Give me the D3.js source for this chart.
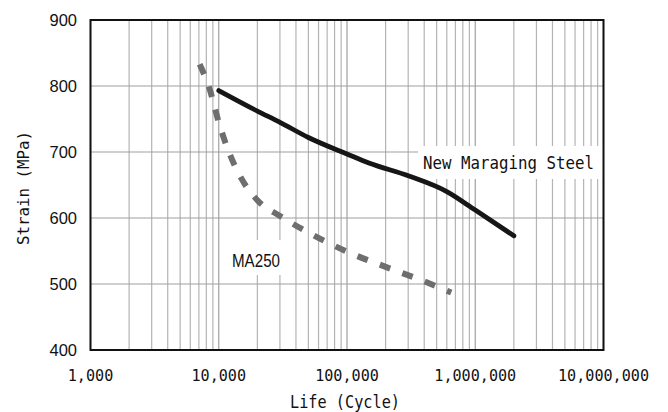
<!DOCTYPE html>
<html><head><meta charset="utf-8">
<script src="https://cdn.jsdelivr.net/npm/d3@7"></script>
<style>html,body{margin:0;padding:0;background:#fff;}svg{display:block;}</style>
</head><body>
<svg id="c" width="668" height="412"></svg>
<script>
const maragingX = [10000, 20000, 30000, 50000, 100000, 150000, 300000, 600000, 1000000, 2000000];
const maragingY = [793, 762, 745, 722, 697, 683, 664, 640, 612, 573];
const ma250X = [7100, 8500, 10000, 12000, 15000, 20000, 30000, 50000, 100000, 200000, 400000, 650000];
const ma250Y = [833, 795, 745, 700, 660, 627, 603, 578, 549, 526, 504, 487];
const xTicks = [1000, 10000, 100000, 1000000, 10000000];
const xTickLabels = ["1,000", "10,000", "100,000", "1,000,000", "10,000,000"];
const yTicks = [400, 500, 600, 700, 800, 900];
const seriesNames = ["New Maraging Steel", "MA250"];
const xTitle = "Life (Cycle)";
const yTitle = "Strain (MPa)";

const svg = d3.select("#c");
const L = 90.5, R = 603.5, T = 20, B = 350;
const x = d3.scaleLog().domain([1000, 10000000]).range([L, R]);
const y = d3.scaleLinear().domain([400, 900]).range([B, T]);

// minor vertical grid
const minor = [];
for (let d = 1000; d < 10000000; d *= 10) for (let k = 2; k <= 9; k++) minor.push(d * k);
const grid = svg.append("g");
grid.selectAll("line.vm").data(minor).join("line")
  .attr("x1", d => x(d)).attr("x2", d => x(d)).attr("y1", T).attr("y2", B)
  .attr("stroke", "#b4b4b4").attr("stroke-width", 1.2);
grid.selectAll("line.vM").data(xTicks).join("line")
  .attr("x1", d => x(d)).attr("x2", d => x(d)).attr("y1", T).attr("y2", B)
  .attr("stroke", "#a0a0a0").attr("stroke-width", 1.2);
grid.selectAll("line.h").data(yTicks).join("line")
  .attr("x1", L).attr("x2", R).attr("y1", d => y(d)).attr("y2", d => y(d))
  .attr("stroke", "#a0a0a0").attr("stroke-width", 1.2);

// label backgrounds
svg.append("rect").attr("x", 418).attr("y", 146).attr("width", R - 418).attr("height", 33).attr("fill", "#fff");
svg.append("rect").attr("x", 226).attr("y", 240).attr("width", 62).attr("height", 35).attr("fill", "#fff");

// border
svg.append("rect").attr("x", L).attr("y", T).attr("width", R - L).attr("height", B - T)
  .attr("fill", "none").attr("stroke", "#111").attr("stroke-width", 2);

const line = d3.line().x(d => x(d[0])).y(d => y(d[1])).curve(d3.curveMonotoneX);

svg.append("path").datum(ma250X.map((v, i) => [v, ma250Y[i]]))
  .attr("d", line).attr("fill", "none").attr("stroke", "#6e6e6e")
  .attr("stroke-width", 6).attr("stroke-dasharray", "11,13");

svg.append("path").datum(maragingX.map((v, i) => [v, maragingY[i]]))
  .attr("d", line).attr("fill", "none").attr("stroke", "#161616")
  .attr("stroke-width", 4.8).attr("stroke-linecap", "round");

// y tick labels
svg.selectAll("text.yt").data(yTicks).join("text")
  .attr("x", 77).attr("y", d => y(d)).attr("dy", "0.36em")
  .attr("text-anchor", "end").attr("font-family", "Liberation Sans, Arial, sans-serif")
  .attr("font-size", 16.5).attr("fill", "#111").text(d => d);

// x tick labels
svg.selectAll("text.xt").data(xTicks).join("text")
  .attr("x", d => x(d)).attr("y", 381)
  .attr("text-anchor", "middle").attr("font-family", "DejaVu Sans Mono, monospace")
  .attr("font-size", 16).attr("fill", "#111")
  .attr("textLength", (d, i) => xTickLabels[i].length * 9.1).attr("lengthAdjust", "spacingAndGlyphs")
  .text((d, i) => xTickLabels[i]);

// axis titles
svg.append("text").attr("x", 345).attr("y", 408).attr("text-anchor", "middle")
  .attr("font-family", "DejaVu Sans Mono, monospace").attr("font-size", 17).attr("fill", "#111")
  .attr("textLength", 110).attr("lengthAdjust", "spacingAndGlyphs").text(xTitle);
svg.append("text").attr("transform", "translate(29,188) rotate(-90)").attr("text-anchor", "middle")
  .attr("font-family", "DejaVu Sans Mono, monospace").attr("font-size", 16.5).attr("fill", "#111")
  .attr("textLength", 114).attr("lengthAdjust", "spacingAndGlyphs").text(yTitle);

// series labels
svg.append("text").attr("x", 423).attr("y", 169)
  .attr("font-family", "DejaVu Sans Mono, monospace").attr("font-size", 18.5).attr("fill", "#111")
  .attr("textLength", 171).attr("lengthAdjust", "spacingAndGlyphs").text(seriesNames[0]);
svg.append("text").attr("x", 232).attr("y", 267)
  .attr("font-family", "Liberation Sans, Arial, sans-serif").attr("font-size", 19).attr("fill", "#111")
  .attr("textLength", 48).attr("lengthAdjust", "spacingAndGlyphs").text(seriesNames[1]);
</script>
</body></html>
